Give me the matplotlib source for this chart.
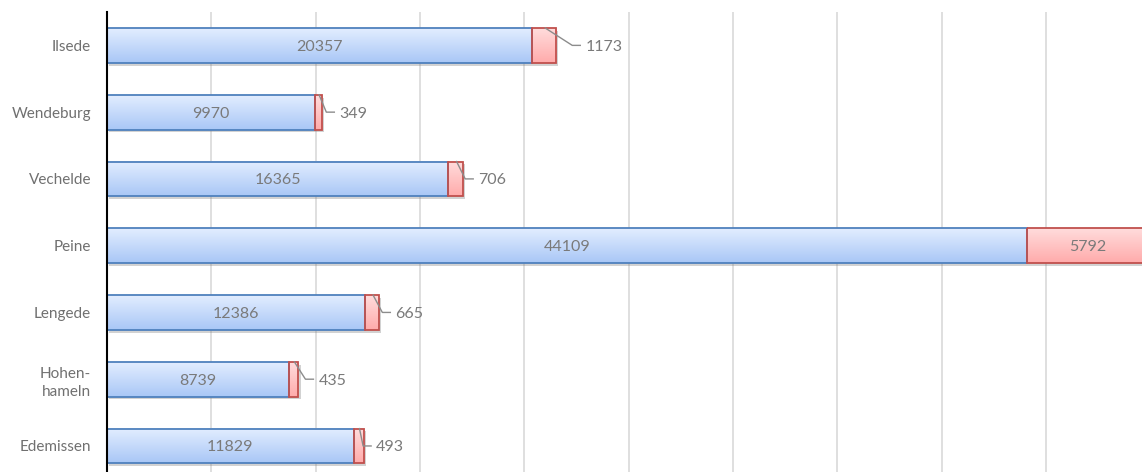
import matplotlib
matplotlib.use('Agg')
import matplotlib.pyplot as plt
import numpy as np
from matplotlib import patheffects as pe
from matplotlib.colors import LinearSegmentedColormap

categories = ['Ilsede', 'Wendeburg', 'Vechelde', 'Peine', 'Lengede', 'Hohen-\nhameln', 'Edemissen']
blue_values = [20357, 9970, 16365, 44109, 12386, 8739, 11829]
red_values = [1173, 349, 706, 5792, 665, 435, 493]
# distance (pixels) of outside labels from bar end; None = label inside
label_offsets_px = [29, 17, 15, None, 16, 20, 12]

plt.rcParams['font.family'] = ['Lato', 'DejaVu Sans']

W, H = 1142, 472
fig = plt.figure(figsize=(W / 100, H / 100), dpi=100)
ax = fig.add_axes([107 / W, 0, 1 - 107 / W, 1 - 12 / H])

y = np.arange(len(categories))
bh = 0.52
blue_cmap = LinearSegmentedColormap.from_list('b', ['#e2edff', '#a9c7f6'])
red_cmap = LinearSegmentedColormap.from_list('r', ['#ffdcdc', '#ffabab'])
grad = np.linspace(0, 1, 64).reshape(-1, 1)
shadow = [pe.SimplePatchShadow(offset=(1.5, -2), shadow_rgbFace='#808080', alpha=0.35), pe.Normal()]

b1 = ax.barh(y, blue_values, height=bh, color='#c4daf9', zorder=2)
b2 = ax.barh(y, red_values, left=blue_values, height=bh, color='#ffc4c4', zorder=2)
for bars, cmap in ((b1, blue_cmap), (b2, red_cmap)):
    for r in bars:
        r.set_path_effects(shadow)
        x0, w, y0, hh = r.get_x(), r.get_width(), r.get_y(), r.get_height()
        ax.imshow(grad, cmap=cmap, aspect='auto', origin='upper',
                  extent=(x0, x0 + w, y0 + hh, y0), zorder=3, interpolation='bilinear')
ax.barh(y, blue_values, height=bh, fill=False, edgecolor='#4f81bd', lw=1.3, zorder=4)
ax.barh(y, red_values, left=blue_values, height=bh, fill=False, edgecolor='#c0504d', lw=1.3, zorder=4)

ax.set_xlim(0, 49600)
ax.set_ylim(6.39, -0.5)
ax.set_xticks(np.arange(0, 50000, 5000))
ax.grid(axis='x', color='#d9d9d9', lw=1.2, zorder=0)
ax.set_axisbelow(True)
ax.tick_params(axis='x', length=0, labelbottom=False)
ax.set_yticks(y)
ax.set_yticklabels(categories, color='#707070', fontsize=11, linespacing=1.35)
ax.tick_params(axis='y', length=0, pad=11.5)
for s in ('top', 'right', 'bottom'):
    ax.spines[s].set_visible(False)
ax.spines['left'].set_color('black')
ax.spines['left'].set_linewidth(1.5)
ax.spines['left'].set_zorder(6)

txt_color = '#7a7a7a'
fs = 11.5
for i, (bv, rv) in enumerate(zip(blue_values, red_values)):
    ax.text(bv / 2, i, str(bv), ha='center', va='center_baseline', color=txt_color, fontsize=fs, zorder=5)
    off = label_offsets_px[i]
    if off is None:
        ax.text(bv + rv / 2, i, str(rv), ha='center', va='center_baseline', color=txt_color, fontsize=fs, zorder=5)
        continue
    fig.canvas.draw()
    inv = fig.transFigure.inverted()
    end = ax.transData.transform((bv + rv, i))
    start = ax.transData.transform((bv + rv * 0.55, i - bh / 2))
    p1 = (end[0] + off - 13, end[1])
    p2 = (end[0] + off - 5, end[1])
    pts = inv.transform([start, p1, p2])
    fig.add_artist(plt.Line2D(pts[:, 0], pts[:, 1], color='#8c8c8c', lw=1.0, zorder=7))
    tp = inv.transform((end[0] + off, end[1]))
    fig.text(tp[0], tp[1], str(rv), ha='left', va='center_baseline', color=txt_color, fontsize=fs, zorder=7)

fig.savefig('out.png', dpi=100)
